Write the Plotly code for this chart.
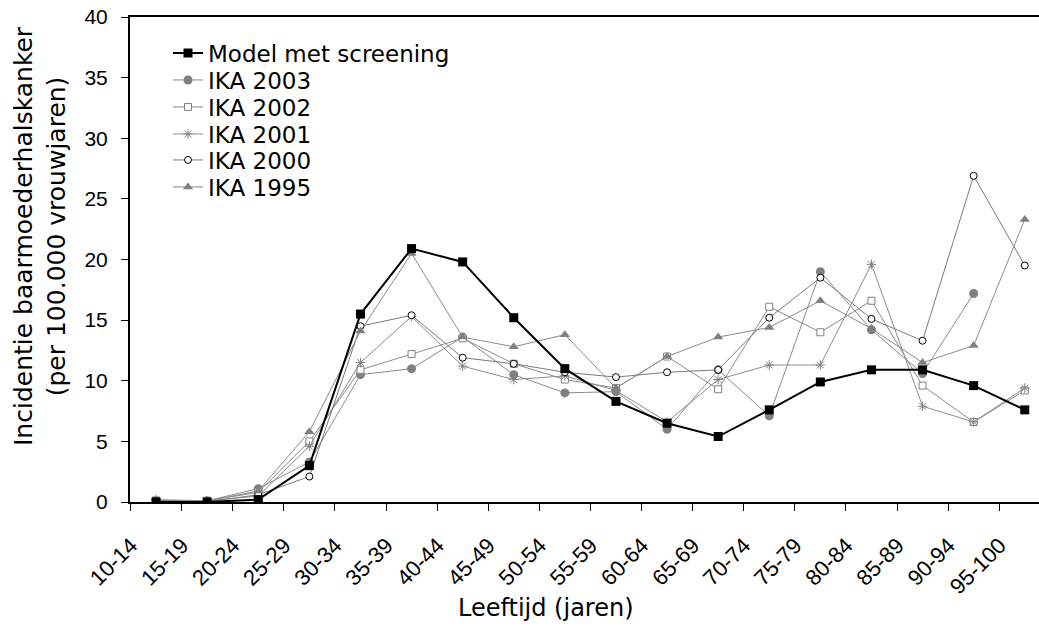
import plotly.graph_objects as go

categories = ["10-14", "15-19", "20-24", "25-29", "30-34", "35-39", "40-44", "45-49",
              "50-54", "55-59", "60-64", "65-69", "70-74", "75-79", "80-84", "85-89",
              "90-94", "95-100"]

model = [0, 0, 0.2, 3.0, 15.5, 20.9, 19.8, 15.2, 11.0, 8.3, 6.5, 5.4, 7.6, 9.9, 10.9, 10.9, 9.6, 7.6]
ika2003 = [0.1, 0.1, 1.1, 3.3, 10.5, 11.0, 13.6, 10.5, 9.0, 9.1, 6.0, 10.9, 7.1, 19.0, 14.2, 10.6, 17.2, None]
ika2002 = [0.1, 0.1, 0.8, 5.0, 10.9, 12.2, 13.5, 11.4, 10.1, 9.4, 12.0, 9.3, 16.1, 14.0, 16.6, 9.6, 6.6, 9.2]
ika2001 = [0.2, 0.1, 0.5, 4.6, 11.5, 15.3, 11.2, 10.1, 10.4, 9.2, 6.6, 10.1, 11.3, 11.3, 19.6, 7.9, 6.6, 9.4]
ika2000 = [0.1, 0.0, 0.6, 2.1, 14.5, 15.4, 11.9, 11.4, 10.7, 10.3, 10.7, 10.9, 15.2, 18.5, 15.1, 13.3, 26.9, 19.5]
ika1995 = [0.1, 0.1, 0.9, 5.8, 14.1, 20.5, 13.6, 12.8, 13.8, 9.4, 12.0, 13.6, 14.4, 16.6, 14.3, 11.5, 12.9, 23.3]

y_ticks = [0, 5, 10, 15, 20, 25, 30, 35, 40]

GRAY = "#8c8c8c"
MGRAY = "#808080"

# pixel geometry (page body margin removed by post_script)
L, T, B_PIX, W, H = 130, 17, 502, 1039, 626
PLOT_H = B_PIX - T
PLOT_W = W - L
SPACING = 51.1
X0 = -0.51
X1 = X0 + PLOT_W / SPACING


def py(fig_y):
    return (B_PIX - fig_y) / PLOT_H


fig = go.Figure()

series = [
    ("IKA 2003", ika2003, dict(symbol="circle", size=9, color=MGRAY, line=dict(color=MGRAY, width=0)), GRAY),
    ("IKA 2002", ika2002, dict(symbol="square", size=7, color="white", line=dict(color=MGRAY, width=1)), GRAY),
    ("IKA 2001", ika2001, dict(symbol="asterisk-open", size=8, color=MGRAY, line=dict(color=MGRAY, width=1)), GRAY),
    ("IKA 2000", ika2000, dict(symbol="circle", size=7, color="white", line=dict(color="black", width=1)), "#7a7a7a"),
    ("IKA 1995", ika1995, dict(symbol="triangle-up", size=9, color=MGRAY, line=dict(color=MGRAY, width=0)), GRAY),
]

legend_rows_y = [53, 80, 107, 134, 160, 187]
legend_names = ["legend", "legend2", "legend3", "legend4", "legend5", "legend6"]

for i, (name, vals, mk, lc) in enumerate(series):
    fig.add_trace(go.Scatter(x=categories, y=vals, name=name, mode="lines+markers",
                             line=dict(color=lc, width=1), marker=mk,
                             legend=legend_names[i + 1]))
fig.add_trace(go.Scatter(x=categories, y=model, name="Model met screening", mode="lines+markers",
                         line=dict(color="black", width=2),
                         marker=dict(symbol="square", size=9, color="black"),
                         legend=legend_names[0]))

leg_x = (168 - L) / PLOT_W
legend_layout = {}
for name, fy in zip(legend_names, legend_rows_y):
    legend_layout[name] = dict(x=leg_x, y=py(fy), xanchor="left", yanchor="middle",
                               font=dict(family="DejaVu Sans", size=23, color="black"),
                               bgcolor="rgba(0,0,0,0)", borderwidth=0)

fig.update_layout(
    width=W, height=H,
    margin=dict(l=L, r=0, t=T, b=H - B_PIX, autoexpand=False),
    paper_bgcolor="white", plot_bgcolor="white",
    showlegend=True,
    xaxis=dict(type="category", categoryorder="array", categoryarray=categories,
               range=[X0, X1], tickson="boundaries",
               ticks="outside", ticklen=7, tickwidth=1, tickcolor="black",
               showline=True, linecolor="black", linewidth=2, mirror=True,
               showgrid=False, zeroline=False, tickangle=-45,
               ticklabelshift=-25, ticklabelstandoff=20,
               tickfont=dict(family="Liberation Sans", size=22, color="black")),
    yaxis=dict(range=[0, 40], tickvals=y_ticks, ticks="outside", ticklen=7, tickwidth=1,
               tickcolor="black", showline=True, linecolor="black", linewidth=2,
               showgrid=False, zeroline=False, ticklabelstandoff=9,
               tickfont=dict(family="Liberation Sans", size=21, color="black")),
    annotations=[
        dict(text="Incidentie baarmoederhalskanker<br>(per 100.000 vrouwjaren)",
             xref="paper", yref="paper", x=0, y=py(236), xshift=-(L - 40),
             xanchor="center", yanchor="middle", textangle=-90, showarrow=False,
             font=dict(family="DejaVu Sans", size=25, color="black")),
        dict(text="Leeftijd (jaren)", xref="paper", yref="paper",
             x=(546 - L) / PLOT_W, y=py(608), xanchor="center", yanchor="middle",
             showarrow=False, font=dict(family="DejaVu Sans", size=24, color="black")),
    ],
    **legend_layout,
)

fig.write_html("out.html",
               config={"displayModeBar": False},
               post_script="document.body.style.margin='0';document.body.style.overflow='hidden';")
